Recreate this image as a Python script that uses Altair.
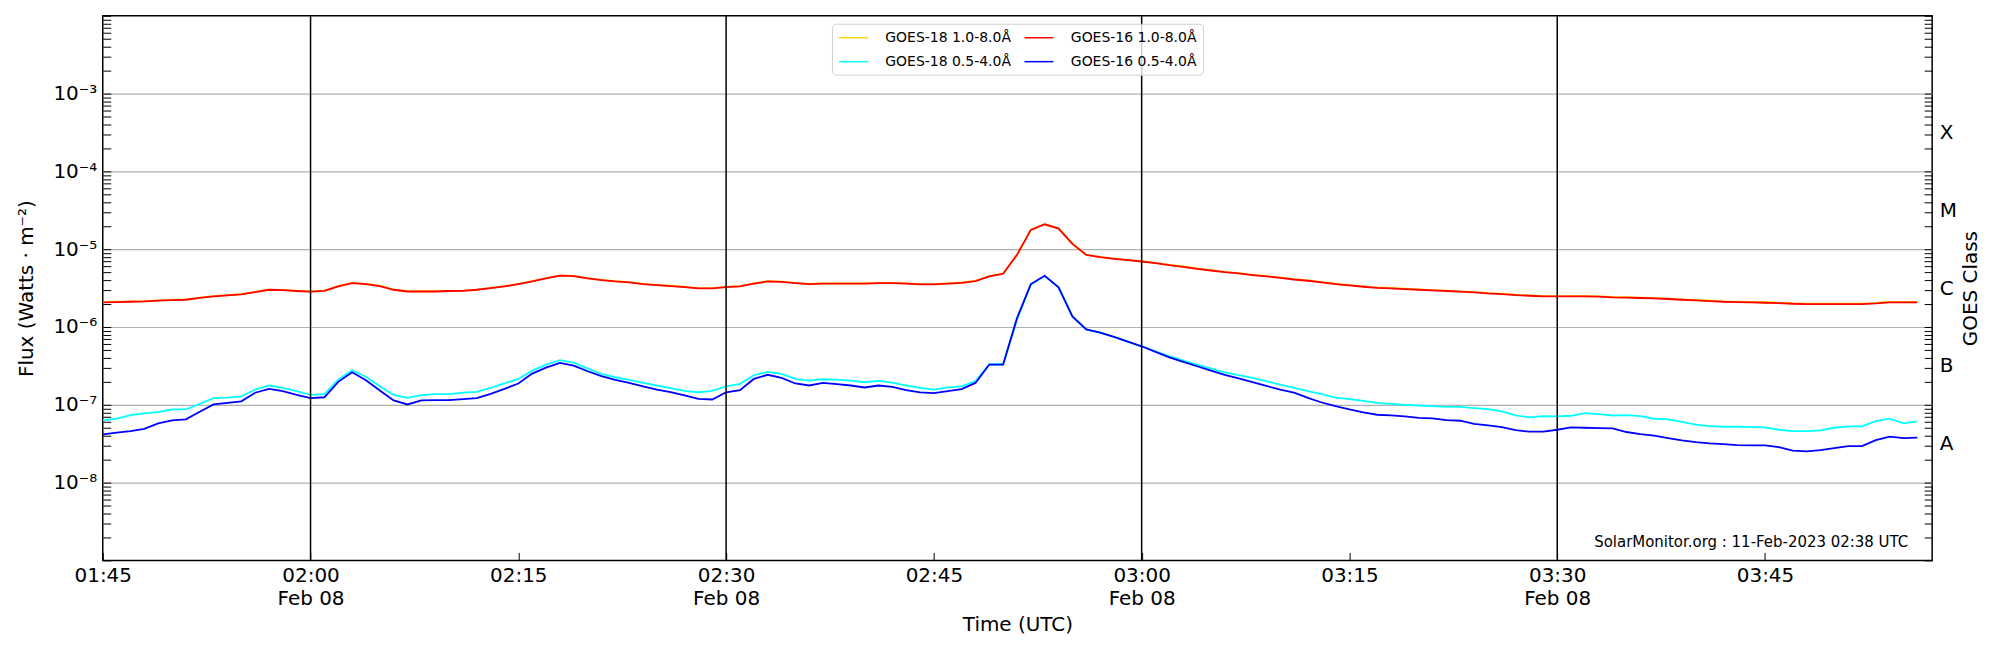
import altair as alt
import pandas as pd

# ---------------- data (1-minute cadence, 01:45 .. 03:56 UTC) ----------------
START = "2023-02-08 01:45"
N_MIN = 132

goes16_long = [
    2.07e-6, 2.09e-6, 2.11e-6, 2.13e-6, 2.18e-6, 2.22e-6, 2.24e-6, 2.36e-6, 2.47e-6, 2.55e-6,
    2.62e-6, 2.81e-6, 3.01e-6, 2.98e-6, 2.90e-6, 2.84e-6, 2.92e-6, 3.32e-6, 3.66e-6, 3.56e-6,
    3.36e-6, 3.01e-6, 2.86e-6, 2.86e-6, 2.86e-6, 2.90e-6, 2.92e-6, 3.01e-6, 3.16e-6, 3.32e-6,
    3.56e-6, 3.85e-6, 4.21e-6, 4.57e-6, 4.51e-6, 4.21e-6, 4.01e-6, 3.85e-6, 3.74e-6, 3.56e-6,
    3.45e-6, 3.36e-6, 3.26e-6, 3.13e-6, 3.13e-6, 3.26e-6, 3.32e-6, 3.60e-6, 3.85e-6, 3.81e-6,
    3.66e-6, 3.56e-6, 3.60e-6, 3.60e-6, 3.60e-6, 3.60e-6, 3.66e-6, 3.66e-6, 3.60e-6, 3.52e-6,
    3.52e-6, 3.60e-6, 3.70e-6, 3.89e-6, 4.47e-6, 4.83e-6, 8.45e-6, 1.77e-5, 2.09e-5, 1.84e-5,
    1.17e-5, 8.45e-6, 7.89e-6, 7.52e-6, 7.23e-6, 6.95e-6, 6.62e-6, 6.24e-6, 5.94e-6, 5.60e-6,
    5.32e-6, 5.07e-6, 4.88e-6, 4.65e-6, 4.47e-6, 4.29e-6, 4.08e-6, 3.93e-6, 3.74e-6, 3.56e-6,
    3.42e-6, 3.29e-6, 3.19e-6, 3.13e-6, 3.07e-6, 3.01e-6, 2.95e-6, 2.90e-6, 2.84e-6, 2.78e-6,
    2.70e-6, 2.65e-6, 2.57e-6, 2.52e-6, 2.47e-6, 2.47e-6, 2.47e-6, 2.47e-6, 2.45e-6, 2.40e-6,
    2.38e-6, 2.36e-6, 2.33e-6, 2.29e-6, 2.24e-6, 2.20e-6, 2.15e-6, 2.11e-6, 2.09e-6, 2.07e-6,
    2.05e-6, 2.03e-6, 1.99e-6, 1.97e-6, 1.97e-6, 1.97e-6, 1.97e-6, 1.97e-6, 2.01e-6, 2.07e-6,
    2.07e-6, 2.07e-6,
]

goes18_long = [
    2.09e-6, 2.11e-6, 2.13e-6, 2.15e-6, 2.20e-6, 2.24e-6, 2.26e-6, 2.38e-6, 2.49e-6, 2.57e-6,
    2.64e-6, 2.83e-6, 3.03e-6, 3.00e-6, 2.92e-6, 2.86e-6, 2.94e-6, 3.35e-6, 3.69e-6, 3.59e-6,
    3.39e-6, 3.03e-6, 2.88e-6, 2.88e-6, 2.88e-6, 2.92e-6, 2.94e-6, 3.03e-6, 3.19e-6, 3.35e-6,
    3.59e-6, 3.88e-6, 4.24e-6, 4.60e-6, 4.54e-6, 4.24e-6, 4.04e-6, 3.88e-6, 3.77e-6, 3.59e-6,
    3.48e-6, 3.39e-6, 3.29e-6, 3.16e-6, 3.16e-6, 3.29e-6, 3.35e-6, 3.63e-6, 3.88e-6, 3.84e-6,
    3.69e-6, 3.59e-6, 3.63e-6, 3.63e-6, 3.63e-6, 3.63e-6, 3.69e-6, 3.69e-6, 3.63e-6, 3.55e-6,
    3.55e-6, 3.63e-6, 3.73e-6, 3.92e-6, 4.50e-6, 4.87e-6, 8.50e-6, 1.78e-5, 2.10e-5, 1.85e-5,
    1.18e-5, 8.50e-6, 7.94e-6, 7.57e-6, 7.28e-6, 7.00e-6, 6.67e-6, 6.29e-6, 5.99e-6, 5.65e-6,
    5.37e-6, 5.12e-6, 4.92e-6, 4.69e-6, 4.51e-6, 4.33e-6, 4.12e-6, 3.97e-6, 3.78e-6, 3.60e-6,
    3.46e-6, 3.33e-6, 3.23e-6, 3.17e-6, 3.10e-6, 3.04e-6, 2.98e-6, 2.93e-6, 2.87e-6, 2.81e-6,
    2.73e-6, 2.68e-6, 2.60e-6, 2.55e-6, 2.50e-6, 2.50e-6, 2.50e-6, 2.50e-6, 2.48e-6, 2.43e-6,
    2.41e-6, 2.39e-6, 2.36e-6, 2.32e-6, 2.27e-6, 2.23e-6, 2.18e-6, 2.14e-6, 2.12e-6, 2.10e-6,
    2.08e-6, 2.06e-6, 2.02e-6, 2.00e-6, 2.00e-6, 2.00e-6, 2.00e-6, 2.00e-6, 2.04e-6, 2.10e-6,
    2.10e-6, 2.10e-6,
]

goes18_short = [
    6.30e-8, 6.62e-8, 7.38e-8, 7.74e-8, 8.05e-8, 8.71e-8, 8.71e-8, 1.03e-7, 1.22e-7, 1.24e-7,
    1.28e-7, 1.57e-7, 1.77e-7, 1.65e-7, 1.50e-7, 1.34e-7, 1.37e-7, 2.11e-7, 2.78e-7, 2.29e-7,
    1.73e-7, 1.34e-7, 1.23e-7, 1.33e-7, 1.37e-7, 1.37e-7, 1.43e-7, 1.47e-7, 1.65e-7, 1.88e-7,
    2.15e-7, 2.75e-7, 3.29e-7, 3.74e-7, 3.49e-7, 2.92e-7, 2.49e-7, 2.26e-7, 2.09e-7, 1.91e-7,
    1.77e-7, 1.64e-7, 1.51e-7, 1.45e-7, 1.51e-7, 1.73e-7, 1.86e-7, 2.40e-7, 2.65e-7, 2.49e-7,
    2.15e-7, 2.05e-7, 2.13e-7, 2.11e-7, 2.05e-7, 1.95e-7, 2.03e-7, 1.93e-7, 1.77e-7, 1.65e-7,
    1.57e-7, 1.67e-7, 1.73e-7, 2.01e-7, 3.32e-7, 3.32e-7, 1.24e-6, 3.49e-6, 4.55e-6, 3.23e-6,
    1.37e-6, 9.33e-7, 8.45e-7, 7.45e-7, 6.49e-7, 5.65e-7, 4.88e-7, 4.21e-7, 3.70e-7, 3.29e-7,
    2.92e-7, 2.62e-7, 2.40e-7, 2.22e-7, 2.01e-7, 1.82e-7, 1.65e-7, 1.50e-7, 1.37e-7, 1.24e-7,
    1.18e-7, 1.12e-7, 1.06e-7, 1.03e-7, 1.00e-7, 9.79e-8, 9.62e-8, 9.42e-8, 9.38e-8, 9.08e-8,
    8.79e-8, 8.22e-8, 7.29e-8, 6.89e-8, 7.16e-8, 7.08e-8, 7.23e-8, 7.82e-8, 7.59e-8, 7.29e-8,
    7.38e-8, 7.16e-8, 6.62e-8, 6.49e-8, 6.05e-8, 5.55e-8, 5.32e-8, 5.22e-8, 5.22e-8, 5.18e-8,
    5.12e-8, 4.78e-8, 4.59e-8, 4.59e-8, 4.69e-8, 5.07e-8, 5.27e-8, 5.27e-8, 6.18e-8, 6.62e-8,
    5.77e-8, 6.11e-8,
]

goes16_short = [
    4.17e-8, 4.38e-8, 4.59e-8, 4.92e-8, 5.77e-8, 6.30e-8, 6.49e-8, 8.13e-8, 1.01e-7, 1.06e-7,
    1.11e-7, 1.43e-7, 1.60e-7, 1.50e-7, 1.34e-7, 1.22e-7, 1.25e-7, 1.97e-7, 2.62e-7, 2.07e-7,
    1.53e-7, 1.14e-7, 1.01e-7, 1.14e-7, 1.15e-7, 1.15e-7, 1.18e-7, 1.22e-7, 1.38e-7, 1.60e-7,
    1.88e-7, 2.52e-7, 3.01e-7, 3.45e-7, 3.19e-7, 2.70e-7, 2.33e-7, 2.09e-7, 1.91e-7, 1.73e-7,
    1.57e-7, 1.45e-7, 1.32e-7, 1.19e-7, 1.17e-7, 1.45e-7, 1.54e-7, 2.15e-7, 2.43e-7, 2.22e-7,
    1.88e-7, 1.77e-7, 1.91e-7, 1.84e-7, 1.77e-7, 1.67e-7, 1.77e-7, 1.70e-7, 1.54e-7, 1.44e-7,
    1.41e-7, 1.50e-7, 1.59e-7, 1.91e-7, 3.29e-7, 3.29e-7, 1.30e-6, 3.56e-6, 4.55e-6, 3.23e-6,
    1.37e-6, 9.33e-7, 8.45e-7, 7.45e-7, 6.49e-7, 5.65e-7, 4.78e-7, 4.08e-7, 3.56e-7, 3.13e-7,
    2.75e-7, 2.43e-7, 2.18e-7, 1.95e-7, 1.75e-7, 1.57e-7, 1.43e-7, 1.23e-7, 1.07e-7, 9.62e-8,
    8.71e-8, 7.98e-8, 7.45e-8, 7.29e-8, 7.08e-8, 6.81e-8, 6.68e-8, 6.35e-8, 6.24e-8, 5.70e-8,
    5.43e-8, 5.18e-8, 4.73e-8, 4.51e-8, 4.51e-8, 4.78e-8, 5.12e-8, 5.07e-8, 5.02e-8, 4.98e-8,
    4.47e-8, 4.21e-8, 4.01e-8, 3.74e-8, 3.49e-8, 3.32e-8, 3.19e-8, 3.13e-8, 3.04e-8, 3.01e-8,
    3.01e-8, 2.86e-8, 2.57e-8, 2.52e-8, 2.62e-8, 2.78e-8, 2.95e-8, 2.95e-8, 3.52e-8, 3.89e-8,
    3.74e-8, 3.78e-8,
]

# legend order (column-major: column 1 = GOES-18, column 2 = GOES-16)
series_names = ["GOES-18 1.0-8.0Å", "GOES-18 0.5-4.0Å", "GOES-16 1.0-8.0Å", "GOES-16 0.5-4.0Å"]
series_colors = ["#ffd700", "#00ffff", "#ff0000", "#0000ff"]
series_values = [goes18_long, goes18_short, goes16_long, goes16_short]
draw_order = ["GOES-18 1.0-8.0Å", "GOES-18 0.5-4.0Å", "GOES-16 1.0-8.0Å", "GOES-16 0.5-4.0Å"]

tick_times = ["2023-02-08T01:45:00Z", "2023-02-08T02:00:00Z", "2023-02-08T02:15:00Z",
              "2023-02-08T02:30:00Z", "2023-02-08T02:45:00Z", "2023-02-08T03:00:00Z",
              "2023-02-08T03:15:00Z", "2023-02-08T03:30:00Z", "2023-02-08T03:45:00Z"]
marker_times = ["2023-02-08T02:00:00Z", "2023-02-08T02:30:00Z",
                "2023-02-08T03:00:00Z", "2023-02-08T03:30:00Z"]
x_range = ["2023-02-08T01:45:00Z", "2023-02-08T03:57:04Z"]
y_range = [1e-9, 1e-2]
decade_labels = [1e-8, 1e-7, 1e-6, 1e-5, 1e-4, 1e-3]
goes_classes = ["A", "B", "C", "M", "X"]
class_positions = [3.162e-8, 3.162e-7, 3.162e-6, 3.162e-5, 3.162e-4]
minor_ticks = [m * 10.0 ** k for k in range(-9, -2) for m in range(1, 10)] + [1e-2]
annotation = "SolarMonitor.org : 11-Feb-2023 02:38 UTC"

# ---------------- build tables ----------------
times = pd.date_range(START, periods=N_MIN, freq="min", tz="UTC")
time_str = [t.strftime("%Y-%m-%dT%H:%M:%SZ") for t in times]
rows = []
for name, vals in zip(series_names, series_values):
    for t, v in zip(time_str, vals):
        rows.append({"time": t, "flux": v, "series": name})
df = pd.DataFrame(rows)


def ms(s):
    return int(pd.Timestamp(s).value // 10 ** 6)


x_dom = [ms(x_range[0]), ms(x_range[1])]
tick_ms = [ms(s) for s in tick_times]

W, H = 1834, 546
x_scale = alt.Scale(type="utc", domain=x_dom, nice=False)
y_scale = alt.Scale(type="log", domain=y_range, nice=False)

FONT = "DejaVu Sans"
sup = "['⁰','¹','²','³','⁴','⁵','⁶','⁷','⁸','⁹']"
y_label_expr = "'10⁻' + " + sup + "[-round(log(datum.value)/LN10)]"
x_label_expr = ("(utcFormat(datum.value, '%M') == '00' || utcFormat(datum.value, '%M') == '30') ? "
                "[utcFormat(datum.value, '%H:%M'), utcFormat(datum.value, '%b %d')] : "
                "utcFormat(datum.value, '%H:%M')")
class_expr = ("datum.value < 1e-7 ? '%s' : datum.value < 1e-6 ? '%s' : datum.value < 1e-5 ? '%s' : "
              "datum.value < 1e-4 ? '%s' : '%s'") % tuple(goes_classes)

x_main = alt.X("time:T", scale=x_scale, axis=alt.Axis(
    values=tick_ms, labelExpr=x_label_expr, ticks=False, tickSize=0, domain=False, grid=False,
    labelFlush=False, labelOverlap=False, labelPadding=5, labelLineHeight=23,
    title="Time (UTC)", titlePadding=6))
y_main = alt.Y("flux:Q", scale=y_scale, axis=alt.Axis(
    values=decade_labels, labelExpr=y_label_expr, ticks=False, tickSize=0, domain=False,
    grid=True, gridColor="#b0b0b0", gridWidth=1.2, labelFlush=False, labelOverlap=False,
    labelPadding=6, title="Flux (Watts · m⁻²)", titlePadding=16))

color_enc = alt.Color("series:N", scale=alt.Scale(domain=series_names, range=series_colors),
                      legend=alt.Legend(
                          title=None, orient="none", legendX=731, legendY=8, columns=2,
                          symbolType="M-2.07,0L2.07,0", symbolSize=196, symbolStrokeWidth=1.5,
                          symbolOffset=7.5, labelOffset=24, labelFontSize=14, labelFont=FONT,
                          labelColor="black", labelLimit=400, columnPadding=10, rowPadding=9,
                          padding=6, strokeColor="#d0d0d0", cornerRadius=4,
                          fillColor="rgba(255,255,255,0.8)"))

line_layers = []
for name in draw_order:
    line_layers.append(
        alt.Chart(df).transform_filter(alt.datum.series == name)
        .mark_line(strokeWidth=1.8, clip=True)
        .encode(x=x_main, y=y_main, color=color_enc)
    )

rules = alt.Chart(pd.DataFrame({"time": marker_times})).mark_rule(
    color="black", strokeWidth=1.5).encode(x=x_main)

note = alt.Chart(pd.DataFrame({"label": [annotation]})).mark_text(
    align="right", baseline="alphabetic", fontSize=15, font=FONT, color="black"
).encode(x=alt.value(1810), y=alt.value(533), text="label:N")

main = alt.layer(*line_layers, rules, note)

tick_df = pd.DataFrame({"flux": minor_ticks, "time": [x_range[0]] * len(minor_ticks)})

ticks_left = alt.Chart(tick_df).mark_point(opacity=0).encode(
    x=alt.X("time:T", scale=x_scale, axis=alt.Axis(
        orient="bottom", values=tick_ms, labels=False, domain=False, grid=False,
        tickSize=8, tickWidth=1, tickColor="black", offset=-8, title=None)),
    y=alt.Y("flux:Q", scale=y_scale, axis=alt.Axis(
        orient="left", values=minor_ticks, labels=False, domain=False, grid=False,
        tickSize=8, tickWidth=1, tickColor="black", offset=-8, title=None)),
)

ticks_right = alt.Chart(tick_df).mark_point(opacity=0).encode(
    x=alt.X("time:T", scale=x_scale, axis=None),
    y=alt.Y("flux:Q", scale=y_scale, axis=alt.Axis(
        orient="right", values=minor_ticks, labels=False, domain=False, grid=False,
        tickSize=8, tickWidth=1, tickColor="black", offset=-8, title=None)),
)

class_df = pd.DataFrame({"flux": class_positions, "cls": goes_classes,
                         "time": [x_range[0]] * len(goes_classes)})
class_axis = alt.Chart(class_df).mark_point(opacity=0).encode(
    x=alt.X("time:T", scale=x_scale, axis=None),
    y=alt.Y("flux:Q", scale=y_scale, axis=alt.Axis(
        orient="right", values=class_positions, labelExpr=class_expr, ticks=False, tickSize=0,
        domain=False, grid=False, labelPadding=7, labelFlush=False, labelOverlap=False,
        title="GOES Class", titleAngle=270, titleX=38, titleY=H / 2,
        titleAlign="center", titleBaseline="middle")),
)

chart = alt.layer(main, ticks_left, ticks_right, class_axis).resolve_scale(
    x="independent", y="independent"
).properties(
    width=W, height=H,
    autosize=alt.AutoSizeParams(type="none"),
    padding={"left": 95, "top": 7, "right": 60, "bottom": 80},
).configure(font=FONT).configure_axis(
    labelFont=FONT, titleFont=FONT, labelFontSize=20, titleFontSize=20,
    labelColor="black", titleColor="black", titleFontWeight="normal",
).configure_view(stroke="black", strokeWidth=1.5)

chart.save("out.html", embed_options={"renderer": "svg", "actions": False})
